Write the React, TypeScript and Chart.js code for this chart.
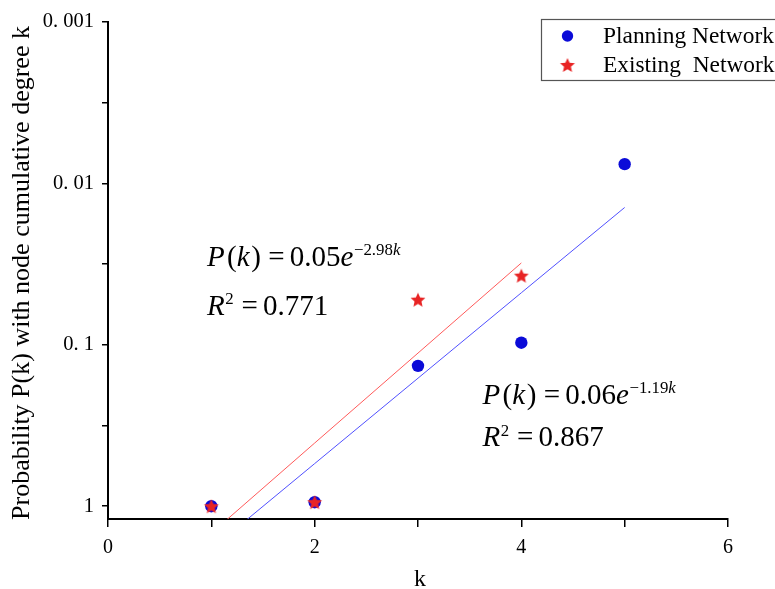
import React, { useEffect, useRef } from "react";
import { Chart, registerables } from "chart.js";
Chart.register(...registerables);

// ---- data ----
const planningK = [1, 2, 3, 4, 5];
const planningValues = [1.0, 0.944, 0.135, 0.097, 0.0076];
const existingK = [1, 2, 3, 4];
const existingValues = [1.0, 0.944, 0.0525, 0.0373];
const planningFitK = [1, 2, 3, 4, 5];
const planningFitValues = [1.841, 0.5445, 0.161, 0.0476, 0.0141];
const existingFitK = [1, 2, 3, 4];
const existingFitValues = [1.469, 0.406, 0.1125, 0.0311];
const yTickValues = [0.001, 0.00316, 0.01, 0.0316, 0.1, 0.316, 1];
const yTickLabels = ["0. 001", "", "0. 01", "", "0. 1", "", "1"];
const xTickValues = [0, 1, 2, 3, 4, 5, 6];
const xTickLabels = ["0", "", "2", "", "4", "", "6"];
const seriesNames = ["Planning Network", "Existing  Network"];
const xTitle = "k";
const yTitle = "Probability P(k) with node cumulative degree k";

// equation text: i = italic, s = superscript, g = extra gap before (em)
type Seg = { t: string; i?: boolean; s?: boolean; g?: number };
const eqExisting: Seg[][] = [
  [{ t: "P", i: true }, { t: "(", g: 0.08 }, { t: "k", i: true }, { t: ")", g: 0.06 }, { t: "=", g: 0.25 }, { t: "0.05", g: 0.18 }, { t: "e", i: true }, { t: "\u22122.98", s: true, g: 0.02 }, { t: "k", i: true, s: true }],
  [{ t: "R", i: true }, { t: "2", s: true, g: 0.02 }, { t: "=", g: 0.27 }, { t: "0.771", g: 0.18 }],
];
const eqPlanning: Seg[][] = [
  [{ t: "P", i: true }, { t: "(", g: 0.08 }, { t: "k", i: true }, { t: ")", g: 0.06 }, { t: "=", g: 0.25 }, { t: "0.06", g: 0.18 }, { t: "e", i: true }, { t: "\u22121.19", s: true, g: 0.02 }, { t: "k", i: true, s: true }],
  [{ t: "R", i: true }, { t: "2", s: true, g: 0.02 }, { t: "=", g: 0.27 }, { t: "0.867", g: 0.18 }],
];

const FONT = '"Liberation Serif", "Times New Roman", serif';
const BLUE = "#0b0bd8";
const RED = "#e82424";

function starPath(ctx: CanvasRenderingContext2D, cx: number, cy: number, R: number, r: number) {
  ctx.beginPath();
  for (let i = 0; i < 10; i++) {
    const rad = i % 2 === 0 ? R : r;
    const a = -Math.PI / 2 + (i * Math.PI) / 5;
    const x = cx + rad * Math.cos(a);
    const y = cy + rad * Math.sin(a);
    if (i === 0) ctx.moveTo(x, y);
    else ctx.lineTo(x, y);
  }
  ctx.closePath();
}

function makeStar(): HTMLCanvasElement {
  const c = document.createElement("canvas");
  c.width = 18;
  c.height = 18;
  const ctx = c.getContext("2d")!;
  ctx.fillStyle = RED;
  starPath(ctx, 9, 9.7, 7.8, 3.6);
  ctx.fill();
  return c;
}

function drawRich(ctx: CanvasRenderingContext2D, x: number, y: number, segs: Seg[], size: number) {
  let cx = x;
  ctx.textBaseline = "alphabetic";
  ctx.textAlign = "left";
  ctx.fillStyle = "#000";
  for (const sg of segs) {
    const fs = sg.s ? size * 0.58 : size;
    ctx.font = `${sg.i ? "italic " : ""}${fs}px ${FONT}`;
    cx += (sg.g || 0) * size;
    const dy = sg.s ? -size * 0.36 : 0;
    ctx.fillText(sg.t, cx, y + dy);
    cx += ctx.measureText(sg.t).width;
  }
}

export default function App() {
  const ref = useRef<HTMLCanvasElement>(null);
  useEffect(() => {
    const star = makeStar();
    const overlay = {
      id: "overlay",
      afterDatasetsDraw(chart: any) {
        const ctx: CanvasRenderingContext2D = chart.ctx;
        const xs = chart.scales.x;
        const ys = chart.scales.y;
        const area = chart.chartArea;
        ctx.save();
        // equations anchored in data coordinates
        const size = 29;
        const x1 = xs.getPixelForValue(0.958);
        const y1 = ys.getPixelForValue(0.0323);
        drawRich(ctx, x1, y1, eqExisting[0], size);
        drawRich(ctx, x1, y1 + 49, eqExisting[1], size);
        const x2 = xs.getPixelForValue(3.624);
        const y2 = ys.getPixelForValue(0.231);
        drawRich(ctx, x2, y2, eqPlanning[0], size);
        drawRich(ctx, x2, y2 + 42.5, eqPlanning[1], size);

        // axis titles
        ctx.fillStyle = "#000";
        ctx.font = `24px ${FONT}`;
        ctx.textAlign = "center";
        ctx.textBaseline = "alphabetic";
        ctx.fillText(xTitle, (area.left + area.right) / 2 + 2, 586);
        ctx.save();
        ctx.translate(29, 273);
        ctx.rotate(-Math.PI / 2);
        ctx.font = `26px ${FONT}`;
        ctx.fillText(yTitle, 0, 0);
        ctx.restore();

        // legend box
        const lx = 541.5, ly = 19.5;
        ctx.strokeStyle = "#555";
        ctx.lineWidth = 1.2;
        ctx.strokeRect(lx, ly, 240, 61);
        ctx.fillStyle = BLUE;
        ctx.beginPath();
        ctx.arc(567.5, 36, 5.7, 0, Math.PI * 2);
        ctx.fill();
        ctx.drawImage(star, 567.5 - 9, 65 - 9);
        ctx.fillStyle = "#000";
        ctx.font = `23.4px ${FONT}`;
        ctx.textBaseline = "middle";
        ctx.textAlign = "left";
        ctx.fillText(seriesNames[0], 603, 37);
        ctx.fillText(seriesNames[1], 603, 65.5);
        ctx.restore();
      },
    };

    const chart = new Chart(ref.current!, {
      type: "scatter",
      data: {
        datasets: [
          {
            label: seriesNames[1],
            data: existingK.map((k, i) => ({ x: k, y: existingValues[i] })),
            pointStyle: star as any,
            order: 0,
            showLine: false,
          },
          {
            label: seriesNames[0],
            data: planningK.map((k, i) => ({ x: k, y: planningValues[i] })),
            pointStyle: "circle",
            pointRadius: 6.2,
            backgroundColor: BLUE,
            borderColor: BLUE,
            borderWidth: 0,
            order: 1,
            showLine: false,
          },
          {
            label: "fit existing",
            data: existingFitK.map((k, i) => ({ x: k, y: existingFitValues[i] })),
            showLine: true,
            pointRadius: 0,
            borderColor: "#ff5a5a",
            borderWidth: 1,
            order: 2,
          },
          {
            label: "fit planning",
            data: planningFitK.map((k, i) => ({ x: k, y: planningFitValues[i] })),
            showLine: true,
            pointRadius: 0,
            borderColor: "#5050ff",
            borderWidth: 1,
            order: 3,
          },
        ],
      },
      options: {
        responsive: false,
        animation: false,
        layout: { padding: { left: 0, top: 22, right: 47, bottom: 0 } },
        plugins: { legend: { display: false }, tooltip: { enabled: false } },
        scales: {
          x: {
            type: "linear",
            min: 0,
            max: 6,
            afterBuildTicks: (s: any) => {
              s.ticks = xTickValues.map((v) => ({ value: v }));
            },
            afterFit: (s: any) => {
              s.height = 70;
            },
            ticks: {
              callback: (_v: any, i: number) => xTickLabels[i],
              font: { family: FONT, size: 20 },
              color: "#000",
              padding: 9,
              maxRotation: 0,
              autoSkip: false,
            },
            grid: { drawOnChartArea: false, drawTicks: true, tickLength: 8, color: "#000", lineWidth: 1.5 },
            border: { color: "#000", width: 2 },
            title: { display: false },
          },
          y: {
            type: "logarithmic",
            min: 0.001,
            max: 1.2,
            reverse: true,
            afterBuildTicks: (s: any) => {
              s.ticks = yTickValues.map((v) => ({ value: v }));
            },
            afterFit: (s: any) => {
              s.width = 108;
            },
            ticks: {
              callback: (_v: any, i: number) => yTickLabels[i],
              font: { family: FONT, size: 20.5 },
              color: "#000",
              padding: 8,
              autoSkip: false,
            },
            grid: { drawOnChartArea: false, drawTicks: true, tickLength: 6, color: "#000", lineWidth: 1.5 },
            border: { color: "#000", width: 2 },
            title: { display: false },
          },
        },
      },
      plugins: [overlay],
    } as any);
    return () => chart.destroy();
  }, []);

  return (
    <div style={{ position: "absolute", left: 0, top: 0, width: 775, height: 589, background: "#fff" }}>
      <canvas ref={ref} width={775} height={589} style={{ display: "block", width: 775, height: 589 }} />
    </div>
  );
}
